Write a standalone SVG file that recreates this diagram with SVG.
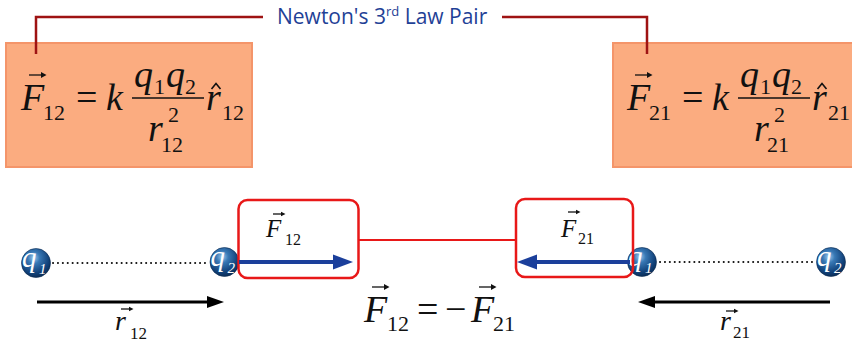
<svg xmlns="http://www.w3.org/2000/svg" width="852" height="343" viewBox="0 0 852 343">
<defs>
<style>
.box{fill:#FBAC80;stroke:#F4956A;stroke-width:2}
.lead{fill:none;stroke:#9E1313;stroke-width:2.5}
.title{font-family:"Open Sans","Liberation Sans",Arial,sans-serif;fill:#1F4196;font-size:21px}
.m{font-family:"Liberation Serif","Times New Roman",serif;fill:#111}
.i{font-style:italic}
.big{font-size:38px}
.sub{font-size:22px}
.vec{stroke:#111;stroke-width:1.3;fill:none}
.vh{fill:#111}
.hat{stroke:#111;stroke-width:1.6;fill:none;stroke-linejoin:miter}
.rbox{fill:none;stroke:#E81818;stroke-width:2.5}
.rline{stroke:#E81818;stroke-width:2.2}
.dots{stroke:#111;stroke-width:2;stroke-dasharray:0.1 4.8;stroke-linecap:round}
.blue{stroke:#1B3F9B;stroke-width:4}
.blueh{fill:#1B3F9B}
.blk{stroke:#000;stroke-width:3}
.ball{fill:url(#sph);stroke:#0a2a50;stroke-width:0.6}
.qt{font-family:"Liberation Serif","Times New Roman",serif;font-style:italic;fill:#fff}
</style>
<radialGradient id="sph" cx="0.42" cy="0.32" r="0.7">
<stop offset="0" stop-color="#9cc8ec"/>
<stop offset="0.3" stop-color="#3878b5"/>
<stop offset="0.75" stop-color="#12427a"/>
<stop offset="1" stop-color="#0a2c55"/>
</radialGradient>
</defs>

<g id="box-F12">
<rect class="box" x="6" y="43" width="246" height="124"/>
<text class="m i big" x="21" y="110">F</text>
<path class="vec" d="M29,75 H43"/><path class="vh" d="M41,72 L46.5,75 L41,78 Z"/>
<text class="m sub" x="43" y="120">12</text>
<text class="m big" x="76" y="110">=</text>
<text class="m i big" x="106" y="110">k</text>
<text class="m i big" x="134" y="87">q</text>
<text class="m sub" x="154" y="94">1</text>
<text class="m i big" x="166" y="87">q</text>
<text class="m sub" x="185" y="94">2</text>
<path d="M132,98 H204" stroke="#111" stroke-width="1.6"/>
<text class="m i big" x="148" y="141">r</text>
<text class="m sub" x="168" y="122">2</text>
<text class="m sub" x="161" y="152">12</text>
<text class="m i big" x="206" y="110">r</text>
<path class="hat" d="M211.5,89 L216,83.5 L220.5,89"/>
<text class="m sub" x="222" y="120">12</text>
</g>

<g id="box-F21">
<rect class="box" x="613" y="43" width="250" height="124"/>
<text class="m i big" x="627" y="110">F</text>
<path class="vec" d="M635,75 H649"/><path class="vh" d="M647,72 L652.5,75 L647,78 Z"/>
<text class="m sub" x="649" y="120">21</text>
<text class="m big" x="682" y="110">=</text>
<text class="m i big" x="712" y="110">k</text>
<text class="m i big" x="740" y="87">q</text>
<text class="m sub" x="760" y="94">1</text>
<text class="m i big" x="772" y="87">q</text>
<text class="m sub" x="791" y="94">2</text>
<path d="M738,98 H810" stroke="#111" stroke-width="1.6"/>
<text class="m i big" x="754" y="141">r</text>
<text class="m sub" x="774" y="122">2</text>
<text class="m sub" x="767" y="152">21</text>
<text class="m i big" x="812" y="110">r</text>
<path class="hat" d="M817.5,89 L822,83.5 L826.5,89"/>
<text class="m sub" x="828" y="120">21</text>
</g>

<g id="connectors">
<path class="lead" d="M36,54 V17 H263"/>
<path class="lead" d="M502,17 H647 V54"/>
<text class="title" x="277" y="24">Newton's 3<tspan dy="-8" style="font-size:13px">rd</tspan><tspan dy="8"> Law Pair</tspan></text>
<path class="dots" d="M53,263 H209"/>
<path class="dots" d="M660,262 H815"/>
<path class="rline" d="M358,240 H516"/>
</g>

<g id="charge-q1-left">
<circle class="ball" cx="36" cy="263" r="14.5"/>
<text class="qt" font-size="29" x="22" y="267">q</text>
<text class="qt" font-size="15" x="39" y="274">1</text>
</g>
<g id="charge-q2-left">
<circle class="ball" cx="224.5" cy="262" r="14.5"/>
<text class="qt" font-size="29" x="210.5" y="266">q</text>
<text class="qt" font-size="15" x="227.5" y="273">2</text>
</g>
<g id="charge-q1-right">
<circle class="ball" cx="642" cy="262" r="14.5"/>
<text class="qt" font-size="29" x="628" y="266">q</text>
<text class="qt" font-size="15" x="645" y="273">1</text>
</g>
<g id="charge-q2-right">
<circle class="ball" cx="831" cy="262" r="14.5"/>
<text class="qt" font-size="29" x="817" y="266">q</text>
<text class="qt" font-size="15" x="834" y="273">2</text>
</g>

<g id="force-F12">
<rect class="rbox" x="238.5" y="200" width="120" height="78" rx="9"/>
<path class="blue" d="M239,262 H336"/>
<path class="blueh" d="M333,254.5 L353,262 L333,269.5 Z"/>
<text class="m i" font-size="25" x="266" y="237">F</text>
<path class="vec" d="M273,214 H283"/><path class="vh" d="M281,211.8 L285.5,214 L281,216.2 Z"/>
<text class="m" font-size="16" x="285" y="245">12</text>
</g>

<g id="force-F21">
<rect class="rbox" x="516" y="199" width="117" height="78" rx="9"/>
<path class="blue" d="M630,262 H534"/>
<path class="blueh" d="M537,254.5 L517,262 L537,269.5 Z"/>
<text class="m i" font-size="25" x="561" y="237">F</text>
<path class="vec" d="M568,212 H578"/><path class="vh" d="M576,209.8 L580.5,212 L576,214.2 Z"/>
<text class="m" font-size="16" x="578" y="244">21</text>
</g>

<g id="vector-r12">
<path class="blk" d="M37,302 H209"/>
<path d="M207,296 L224,302 L207,308 Z" fill="#000"/>
<text class="m i" font-size="28" x="115" y="330">r</text>
<path class="vec" d="M121,309 H131"/><path class="vh" d="M129,306.8 L133.5,309 L129,311.2 Z"/>
<text class="m" font-size="17" x="130" y="339">12</text>
</g>

<g id="vector-r21">
<path class="blk" d="M830,302 H653"/>
<path d="M655,296 L638,302 L655,308 Z" fill="#000"/>
<text class="m i" font-size="28" x="720" y="330">r</text>
<path class="vec" d="M726,311 H736"/><path class="vh" d="M734,308.8 L738.5,311 L734,313.2 Z"/>
<text class="m" font-size="17" x="733" y="338">21</text>
</g>

<g id="equation-pair">
<text class="m i big" x="364" y="322">F</text>
<path class="vec" d="M372,287 H386"/><path class="vh" d="M384,284 L389.5,287 L384,290 Z"/>
<text class="m sub" x="387" y="331">12</text>
<text class="m big" x="417" y="322">=</text>
<text class="m big" x="445" y="322">−</text>
<text class="m i big" x="471" y="322">F</text>
<path class="vec" d="M479,287 H493"/><path class="vh" d="M491,284 L496.5,287 L491,290 Z"/>
<text class="m sub" x="493" y="331">21</text>
</g>
</svg>
